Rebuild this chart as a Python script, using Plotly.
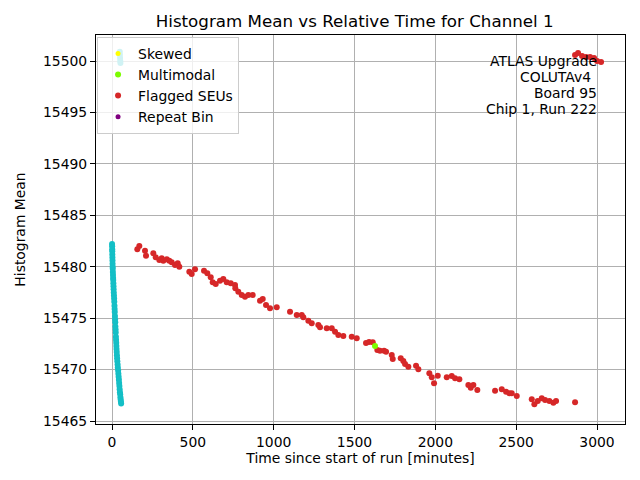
import plotly.graph_objects as go

# regular (unflagged) points, time [min] and histogram mean
normal_t = [0.3, 0.8, 1.2, 1.6, 2.0, 2.5, 3.0, 3.4, 4.0, 4.6, 5.2, 6.0, 6.8, 7.5,
            8.3, 9.2, 10.0, 11.0, 12.0, 13.1, 14.0, 15.2, 16.1, 17.0, 18.2, 19.0,
            20.1, 21.0, 22.2, 23.0, 24.1, 25.0, 26.2, 27.1, 28.0, 29.2, 30.3, 31.5,
            33.0, 34.6, 36.0, 37.8, 39.4, 41.0, 42.7, 44.1, 45.8, 47.3, 49.0, 50.6,
            52.0, 53.5, 55.0, 56.5, 48.0, 49.0, 50.0, 51.0, 52.0]
normal_y = [15482.2, 15482.0, 15481.7, 15481.5, 15481.2, 15480.9, 15480.6, 15480.3,
            15480.0, 15479.8, 15479.5, 15479.2, 15478.9, 15478.7, 15478.4, 15478.1,
            15477.8, 15477.5, 15477.2, 15476.9, 15476.6, 15476.2, 15475.9, 15475.6,
            15475.2, 15474.9, 15474.6, 15474.2, 15473.9, 15473.6, 15473.2, 15472.9,
            15472.6, 15472.3, 15472.0, 15471.7, 15471.4, 15471.1, 15470.8, 15470.5,
            15470.2, 15469.9, 15469.6, 15469.3, 15469.0, 15468.7, 15468.4, 15468.1,
            15467.8, 15467.6, 15467.3, 15467.1, 15466.9, 15466.7,
            15500.9, 15500.6, 15500.3, 15500.0, 15499.8]

# flagged SEUs
seu_t = [156.5, 168.9, 204.1, 210.3, 255.5, 270.3, 292.6, 307.4, 317.3, 338.4,
         354.5, 369.3, 389.7, 406.4, 416.3, 478.2, 493.0, 513.4, 569.1, 589.5,
         610.6, 622.9, 641.5, 668.1, 688.5, 709.5, 734.3, 760.9, 762.7, 781.3,
         802.3, 822.7, 843.2, 870.4, 915.5, 932.2, 952.6, 977.4, 1018.8, 1101.1,
         1142.6, 1173.5, 1183.4, 1214.3, 1235.3, 1276.2, 1286.7, 1328.1, 1359.1,
         1379.5, 1399.9, 1430.8, 1482.8, 1513.7, 1571.2, 1589.8, 1612.7, 1641.1,
         1657.8, 1682.6, 1695.0, 1730.2, 1736.4, 1785.9, 1802.0, 1812.5, 1832.9,
         1880.5, 1894.8, 1962.8, 1977.7, 1991.9, 2014.8, 2070.5, 2101.4, 2121.8,
         2148.4, 2204.1, 2218.9, 2235.0, 2259.7, 2369.2, 2410.7, 2437.3, 2457.7,
         2472.5, 2503.5, 2596.3, 2612.4, 2633.4, 2658.1, 2678.5, 2705.1, 2729.9,
         2746.6, 2864.1,
         2864.0, 2882.7, 2907.4, 2932.2, 2956.9, 2981.7, 3000.2, 3025.0]
seu_y = [15481.69, 15482.01, 15481.56, 15481.07, 15481.30, 15480.92, 15480.65,
         15480.82, 15480.59, 15480.72, 15480.59, 15480.43, 15480.17, 15480.33,
         15480.00, 15479.52, 15479.29, 15479.75, 15479.61, 15479.36, 15478.97,
         15478.49, 15478.32, 15478.64, 15478.81, 15478.49, 15478.39, 15478.22,
         15477.90, 15477.57, 15477.25, 15477.09, 15477.25, 15477.25, 15476.70,
         15476.86, 15476.28, 15475.96, 15476.05, 15475.63, 15475.31, 15475.31,
         15475.08, 15474.75, 15474.50, 15474.33, 15474.11, 15474.01, 15474.01,
         15473.68, 15473.36, 15473.26, 15473.20, 15473.04, 15472.58, 15472.68,
         15472.65, 15471.90, 15471.84, 15471.84, 15471.74, 15471.42, 15471.03,
         15471.10, 15470.83, 15470.54, 15470.28, 15470.38, 15470.03, 15469.64,
         15469.25, 15468.67, 15469.40, 15469.25, 15469.38, 15469.15, 15469.05,
         15468.50, 15468.24, 15468.50, 15468.01, 15467.95, 15468.08, 15467.85,
         15467.69, 15467.69, 15467.43, 15467.11, 15466.62, 15466.95, 15467.21,
         15467.04, 15466.95, 15466.78, 15466.95, 15466.82,
         15500.58, 15500.78, 15500.49, 15500.39, 15500.39, 15500.29, 15500.00,
         15499.90]

# multimodal
multi_t = [1626.9]
multi_y = [15472.29]

# skewed / repeat bin (nothing visible on the plot)
skew_t, skew_y = [None], [None]
rep_t, rep_y = [None], [None]

info_lines = ["ATLAS Upgrade", "COLUTAv4", "Board 95", "Chip 1, Run 222"]

x_ticks = [0, 500, 1000, 1500, 2000, 2500, 3000]
y_ticks = [15465, 15470, 15475, 15480, 15485, 15490, 15495, 15500]

fig = go.Figure()

fig.add_trace(go.Scatter(x=normal_t, y=normal_y, mode="markers",
                         marker=dict(color="#14bfc6", size=6),
                         showlegend=False))
fig.add_trace(go.Scatter(x=skew_t, y=skew_y, mode="markers", name="Skewed",
                         marker=dict(color="yellow", size=5), legendrank=1))
fig.add_trace(go.Scatter(x=seu_t, y=seu_y, mode="markers", name="Flagged SEUs",
                         marker=dict(color="#d62728", size=6), legendrank=3))
fig.add_trace(go.Scatter(x=multi_t, y=multi_y, mode="markers", name="Multimodal",
                         marker=dict(color="#7cfc00", size=6), legendrank=2))
fig.add_trace(go.Scatter(x=rep_t, y=rep_y, mode="markers", name="Repeat Bin",
                         marker=dict(color="purple", size=5), legendrank=4))

for i, line in enumerate(info_lines):
    fig.add_annotation(x=0.947, y=0.933 - i * 0.0415, xref="paper", yref="paper",
                       text=line, showarrow=False, xanchor="right", yanchor="middle",
                       xshift=-4 if line == "COLUTAv4" else 2,
                       font=dict(size=13.9, color="black"))

axis_style = dict(showgrid=True, gridcolor="#b0b0b0", gridwidth=1,
                  showline=True, linecolor="black", linewidth=1.1, mirror=True,
                  ticks="outside", ticklen=5, tickwidth=1.1, tickcolor="black",
                  zeroline=False, automargin=False,
                  tickfont=dict(size=13.9, color="black"))

fig.update_xaxes(range=[-99, 3173], tickvals=x_ticks,
                 title=dict(text="Time since start of run [minutes]",
                            font=dict(size=13.9), standoff=4),
                 **axis_style)
fig.update_yaxes(range=[15464.71, 15502.53], tickvals=y_ticks, tickformat="d",
                 title=dict(text="Histogram Mean", font=dict(size=13.9), standoff=14),
                 **axis_style)

# page adds an 8px body margin, so the figure is a bit smaller and shifted
fig.update_layout(
    width=632, height=472,
    margin=dict(l=88, r=15, t=27, b=56),
    paper_bgcolor="white", plot_bgcolor="white",
    font=dict(family="DejaVu Sans", color="black"),
    title=dict(text="Histogram Mean vs Relative Time for Channel 1",
               x=0.489, xref="paper", y=0.973, yref="container",
               xanchor="center", yanchor="middle",
               font=dict(size=16.7, color="black")),
    legend=dict(x=0.002, y=0.995, xanchor="left", yanchor="top",
                bgcolor="rgba(255,255,255,0.8)", bordercolor="#cccccc",
                borderwidth=1, font=dict(size=13.9), tracegroupgap=0,
                itemwidth=30),
)

fig.write_html("out.html")
